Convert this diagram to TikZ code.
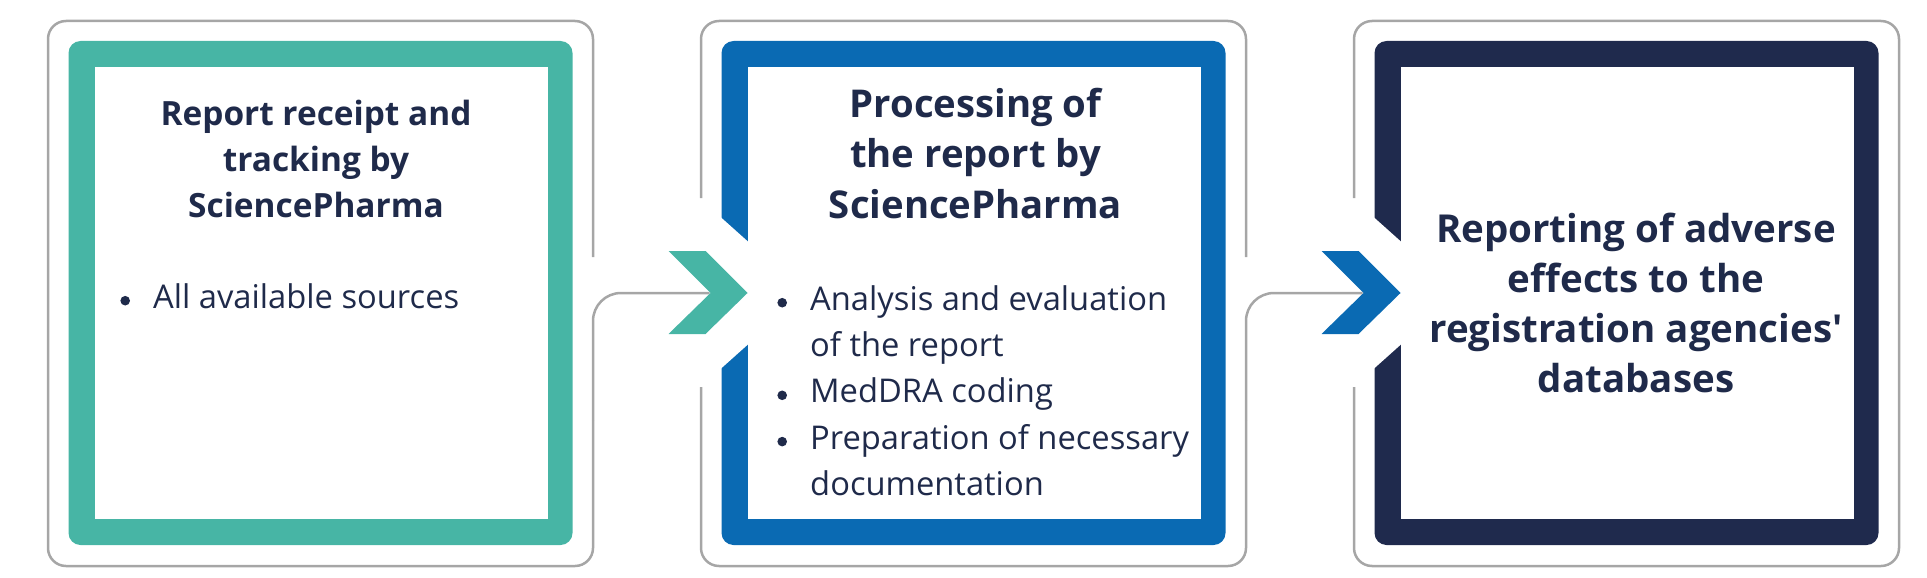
\documentclass[tikz,border=0pt]{standalone}
\usepackage{fontspec}
\setmainfont{Open Sans}
\usetikzlibrary{calc}

\definecolor{tealstage}{HTML}{47B5A5}
\definecolor{bluestage}{HTML}{0A6AB3}
\definecolor{navystage}{HTML}{1F2A4D}
\definecolor{rimgrey}{HTML}{A6A6A6}
\definecolor{ink}{HTML}{1F2A4A}

\tikzset{
    framebox/.style={rectangle, minimum width=504pt, minimum height=504pt, inner sep=0pt, rounded corners=12pt},
    bodybox/.style={rectangle, fill=white, minimum width=453pt, minimum height=452pt, inner sep=0pt},
    rim/.style={draw=rimgrey, line width=2.5pt, rounded corners=18pt},
    link/.style={draw=rimgrey, line width=2.5pt, rounded corners=28pt},
    titletext/.style={anchor=north, align=center, inner sep=0pt, text=ink},
    bullettext/.style={anchor=north west, align=left, inner sep=0pt, text=ink, font=\fontsize{32.7}{46.3}\selectfont},
}

\newcommand{\bul}{\makebox[34pt][l]{\hspace*{1.2pt}\raisebox{2.7pt}{\tikz\fill[ink] (0,0) circle (4.8pt);}}}
\newcommand{\straightquote}{\XeTeXglyph\XeTeXglyphindex "quotesingle"\relax}
\newcommand{\drawstage}[3]{
    % coloured frame with its white body, and the point where the arrow comes in
    \node[framebox, fill=#2] (#3) at (#1,293) {};
    \node[bodybox] (#3body) at (#1+0.5,293) {};
    \coordinate (#3in) at (#1-264,293);
}
\newcommand{\drawchevron}[2]{
    % white cut in the left side of the frame, then the arrow
    \fill[white] (#1-258,212.5) -- (#1-220,246.5) -- (#1-220,339.5) -- (#1-258,373.5) -- cycle;
    \fill[#2] (#1-305,251) -- (#1-268,251) -- (#1-226,293) -- (#1-268,334) -- (#1-305,334) -- (#1-263,293) -- cycle;
}

\begin{document}
\begin{tikzpicture}[x=1pt, y=-1pt]
        \useasboundingbox (0,0) rectangle (1927,578);

        % Stage 1: receipt
        \def\x{320.5}
        \drawstage{\x}{tealstage}{stageA}
        \draw[rim] (\x+272.5,257) -- (\x+272.5,21) -- (\x-272.5,21) -- (\x-272.5,566) -- (\x+272.5,566) -- (\x+272.5,420) coordinate (exitA);
        \node[titletext, font=\fontsize{33.4}{46}\selectfont\bfseries] (titleA) at (316,92.8) {\strut Report receipt and\\tracking by\\SciencePharma};
        \node[bullettext] (listA) at (119,275.6) {\strut\bul All available sources};

        % Stage 2: processing
        \def\x{973.5}
        \drawstage{\x}{bluestage}{stageB}
        \draw[rim] (\x-272.5,198) -- (\x-272.5,21) -- (\x+272.5,21) -- (\x+272.5,257);
        \draw[rim] (\x-272.5,387) -- (\x-272.5,566) -- (\x+272.5,566) -- (\x+272.5,420) coordinate (exitB);
        \node[titletext, font=\fontsize{38.3}{50.5}\selectfont\bfseries] (titleB) at (975.5,81.6) {\strut Processing of\\the report by\\SciencePharma};
        \node[bullettext] (listB) at (776,277.6) {\strut\bul Analysis and evaluation\\\hspace*{34pt}of the report\\\bul MedDRA coding\\\bul Preparation of necessary\\\hspace*{34pt}documentation};

        % Stage 3: reporting
        \def\x{1626.5}
        \drawstage{\x}{navystage}{stageC}
        \draw[rim] (\x-272.5,387) -- (\x-272.5,566) -- (\x+272.5,566) -- (\x+272.5,21) -- (\x-272.5,21) -- (\x-272.5,198);
        \node[titletext, font=\fontsize{38.5}{50}\selectfont\bfseries] (titleC) at (1636,207) {\strut Reporting of adverse\\effects to the\\registration agencies\straightquote\\databases};

        % Connectors and arrows
        \draw[link] (exitA) |- (stageBin);
        \draw[link] (exitB) |- (stageCin);
        \drawchevron{973.5}{tealstage}
        \drawchevron{1626.5}{bluestage}

\end{tikzpicture}
\end{document}
